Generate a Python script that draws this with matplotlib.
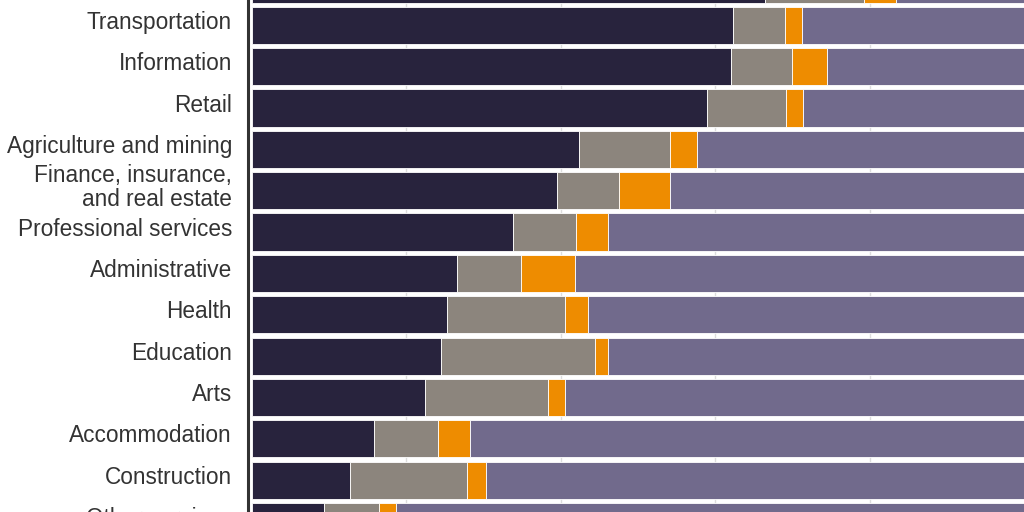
import numpy as np
import matplotlib
matplotlib.use('Agg')
from matplotlib import pyplot as plt
from matplotlib import transforms

# industries, top to bottom (first one is cut off at the top of the picture)
industries = ['Manufacturing', 'Transportation', 'Information', 'Retail',
              'Agriculture and mining', 'Finance, insurance,\nand real estate',
              'Professional services', 'Administrative', 'Health', 'Education',
              'Arts', 'Accommodation', 'Construction', 'Other services']

# shares in percent per segment
seg_a = [66.4, 62.3, 62.1, 59.0, 42.3, 39.5, 33.8, 26.6, 25.2, 24.5, 22.4, 15.8, 12.7, 9.3]
seg_b = [12.9, 6.7, 7.8, 10.2, 11.8, 8.0, 8.2, 8.3, 15.4, 19.9, 16.0, 8.3, 15.1, 7.1]
seg_c = [4.1, 2.2, 4.6, 2.2, 3.6, 6.7, 4.1, 6.9, 2.9, 1.7, 2.2, 4.2, 2.5, 2.2]
seg_d = [100 - a - b - c for a, b, c in zip(seg_a, seg_b, seg_c)]

colors = ['#28233d', '#8c857d', '#ee8c00', '#716a8c']

plt.rcParams['font.family'] = ['Liberation Sans', 'DejaVu Sans']

fig = plt.figure(figsize=(10.24, 5.12), dpi=100)
ax = fig.add_axes([252 / 1024, 0, 772 / 1024, 1])

y = np.arange(len(industries))
left = np.zeros(len(industries))
for vals, col in zip([seg_a, seg_b, seg_c, seg_d], colors):
    ax.barh(y, vals, left=left, height=0.9, color=col, edgecolor='white',
            linewidth=0.6, zorder=2)
    left += np.array(vals)

ax.set_xlim(0, 100)
ax.set_xticks([20, 40, 60, 80])
ax.grid(axis='x', color='#dddddd', linewidth=1, zorder=0)
ax.tick_params(axis='x', length=0, labelbottom=False)
ax.set_yticks([])
ax.set_ylim(12.77, 0.387)

# category labels, right aligned left of the axis, a little above bar centre
lab_tr = transforms.blended_transform_factory(ax.transAxes, ax.transData)
lab_tr = lab_tr + transforms.ScaledTranslation(-20 / 100, 3 / 100, fig.dpi_scale_trans)
for yi, name in zip(y, industries):
    ax.text(0, yi, name, transform=lab_tr, ha='right', va='center',
            fontsize=16.3, color='#333333', linespacing=1.05, multialignment='right')

for s in ['top', 'right', 'bottom']:
    ax.spines[s].set_visible(False)
ax.spines['left'].set_position(('outward', 3))
ax.spines['left'].set_linewidth(2.2)
ax.spines['left'].set_color('#333333')

fig.savefig('out.png', dpi=100)
